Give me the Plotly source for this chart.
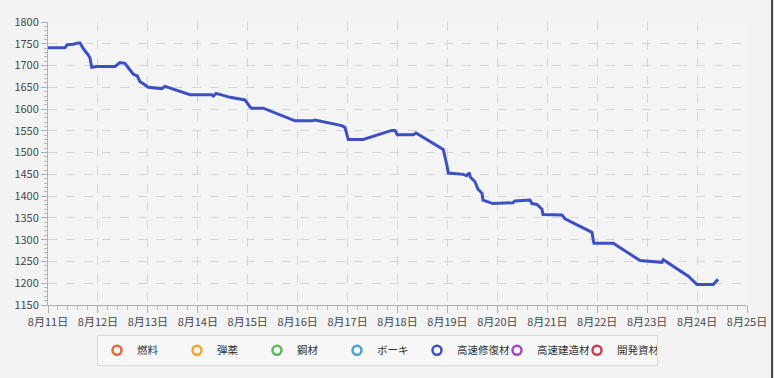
import plotly.graph_objects as go

# ---- data ----
times = [
    "2024-08-11 00:00", "2024-08-11 08:10", "2024-08-11 09:17", "2024-08-11 12:10",
    "2024-08-11 14:34", "2024-08-11 15:23", "2024-08-11 16:58", "2024-08-11 18:36",
    "2024-08-11 19:22", "2024-08-11 20:11", "2024-08-11 21:00", "2024-08-11 23:24",
    "2024-08-12 08:12", "2024-08-12 10:36", "2024-08-12 13:00", "2024-08-12 14:35",
    "2024-08-12 17:00", "2024-08-12 18:56", "2024-08-12 20:13", "2024-08-12 21:49",
    "2024-08-13 00:13", "2024-08-13 06:39", "2024-08-13 08:14", "2024-08-13 20:15",
    "2024-08-14 06:41", "2024-08-14 07:28", "2024-08-14 08:45", "2024-08-14 15:29",
    "2024-08-14 22:41", "2024-08-15 01:06", "2024-08-15 01:55", "2024-08-15 07:29",
    "2024-08-15 22:43", "2024-08-16 06:45", "2024-08-16 08:20", "2024-08-16 21:10",
    "2024-08-16 22:45", "2024-08-17 00:20", "2024-08-17 07:33", "2024-08-17 21:13",
    "2024-08-17 22:48", "2024-08-17 23:54", "2024-08-18 07:35", "2024-08-18 08:53",
    "2024-08-18 21:14", "2024-08-18 22:00", "2024-08-18 23:38", "2024-08-19 00:25",
    "2024-08-19 07:38", "2024-08-19 09:15", "2024-08-19 10:30", "2024-08-19 11:00",
    "2024-08-19 13:15", "2024-08-19 14:41", "2024-08-19 15:20", "2024-08-19 16:37",
    "2024-08-19 17:05", "2024-08-19 21:53", "2024-08-20 07:30", "2024-08-20 08:28",
    "2024-08-20 15:40", "2024-08-20 16:38", "2024-08-20 19:03", "2024-08-20 21:27",
    "2024-08-20 21:56", "2024-08-21 07:04", "2024-08-21 08:31", "2024-08-21 21:29",
    "2024-08-21 22:06", "2024-08-21 22:26", "2024-08-22 07:43", "2024-08-22 20:34",
    "2024-08-23 07:08", "2024-08-23 07:45", "2024-08-23 19:47", "2024-08-23 21:25",
    "2024-08-23 23:00", "2024-08-23 23:57", "2024-08-24 07:48", "2024-08-24 10:03",
]
repair_values = [
    1741, 1741, 1748, 1749,
    1752, 1752, 1739, 1730,
    1724, 1717, 1696, 1698,
    1698, 1707, 1705, 1695,
    1680, 1676, 1663, 1658,
    1650, 1647, 1652, 1633,
    1633, 1630, 1636, 1627,
    1621, 1605, 1602, 1602,
    1573, 1573, 1575, 1562,
    1558, 1530, 1530, 1551,
    1551, 1541, 1541, 1545,
    1510, 1507, 1474, 1453,
    1450, 1447, 1454, 1444,
    1433, 1416, 1413, 1407,
    1391, 1383, 1385, 1389,
    1391, 1383, 1381, 1370,
    1358, 1357, 1348, 1317,
    1300, 1292, 1292, 1252,
    1248, 1254, 1216, 1209,
    1200, 1197, 1197, 1209,
]

series_names = ["燃料", "弾薬", "鋼材", "ボーキ", "高速修復材", "高速建造材", "開発資材"]
series_colors = ["#e2673a", "#f2a531", "#5cb85c", "#4aa3c8", "#3d50c3", "#a347c4", "#cf3a57"]

tick_dates = ["2024-08-%02d" % d for d in range(11, 26)]
tick_labels = ["8月%d日" % d for d in range(11, 26)]
y_range = [1150, 1800]

# ---- figure ----
fig = go.Figure()

fig.add_trace(go.Scatter(
    x=times, y=repair_values, mode="lines",
    line=dict(color=series_colors[4], width=3),
    name=series_names[4], legendgroup=series_names[4], showlegend=False,
))

for name, color in zip(series_names, series_colors):
    fig.add_trace(go.Scatter(
        x=[None], y=[None], mode="markers", name=name, legendgroup=name,
        marker=dict(symbol="circle-open", size=9, color=color, line=dict(width=2.5, color=color)),
    ))

W, H = 771, 378
L, R, T, B = 48, 24, 22, 62
pw, ph = W - L - R, H - T - B

def px2paperx(px):
    return (px - L) / pw

def py2papery(py):
    return (H - B - py) / ph

axis_font = dict(family="Noto Sans CJK JP", size=11, color="#484848")

fig.update_layout(
    width=W, height=H,
    margin=dict(l=L, r=R, t=T, b=B, pad=0),
    paper_bgcolor="#f3f3f3",
    plot_bgcolor="#f4f4f4",
    font=dict(family="Noto Sans CJK JP", size=12, color="#333333"),
    xaxis=dict(
        type="date", automargin=False,
        range=[tick_dates[0], tick_dates[-1]],
        tickmode="array", tickvals=tick_dates, ticktext=tick_labels,
        tickfont=axis_font, ticklabeloverflow="allow",
        showgrid=True, gridcolor="#d6d6d6", griddash="dash", gridwidth=1,
        showline=True, linecolor="#b0b0b0", linewidth=1,
        ticks="outside", ticklen=7, tickcolor="#b0b0b0",
        minor=dict(dtick=86400000 / 5, tick0=tick_dates[0], ticks="outside",
                   ticklen=4, tickcolor="#b8b8b8", showgrid=False),
        zeroline=False, fixedrange=True,
    ),
    yaxis=dict(
        automargin=False,
        range=y_range, dtick=50, tick0=1150,
        tickfont=axis_font, ticklabeloverflow="allow",
        showgrid=True, gridcolor="#d6d6d6", griddash="dash", gridwidth=1,
        showline=True, linecolor="#b0b0b0", linewidth=1,
        ticks="outside", ticklen=6, tickcolor="#b0b0b0",
        minor=dict(dtick=10, ticks="outside", ticklen=3, tickcolor="#b8b8b8", showgrid=False),
        zeroline=False, fixedrange=True,
    ),
    legend=dict(
        orientation="h",
        x=px2paperx(377.5), xanchor="center",
        y=py2papery(347), yanchor="top",
        bgcolor="#f7f7f7", bordercolor="#dadada", borderwidth=1,
        font=dict(family="Noto Sans CJK JP", size=10.5, color="#333333"),
        entrywidth=35, entrywidthmode="pixels",
        itemwidth=30,
    ),
)

fig.write_html(
    "out.html",
    config={"displayModeBar": False},
    post_script=(
        "document.body.style.margin='0px';"
        "document.body.style.overflow='hidden';"
        "document.documentElement.style.background="
        "'linear-gradient(to right, #f8f8f8 0px, #f8f8f8 771px, #4a4a4a 771px, "
        "#4a4a4a 773px, #dfe3e6 773px)';"
    ),
)
